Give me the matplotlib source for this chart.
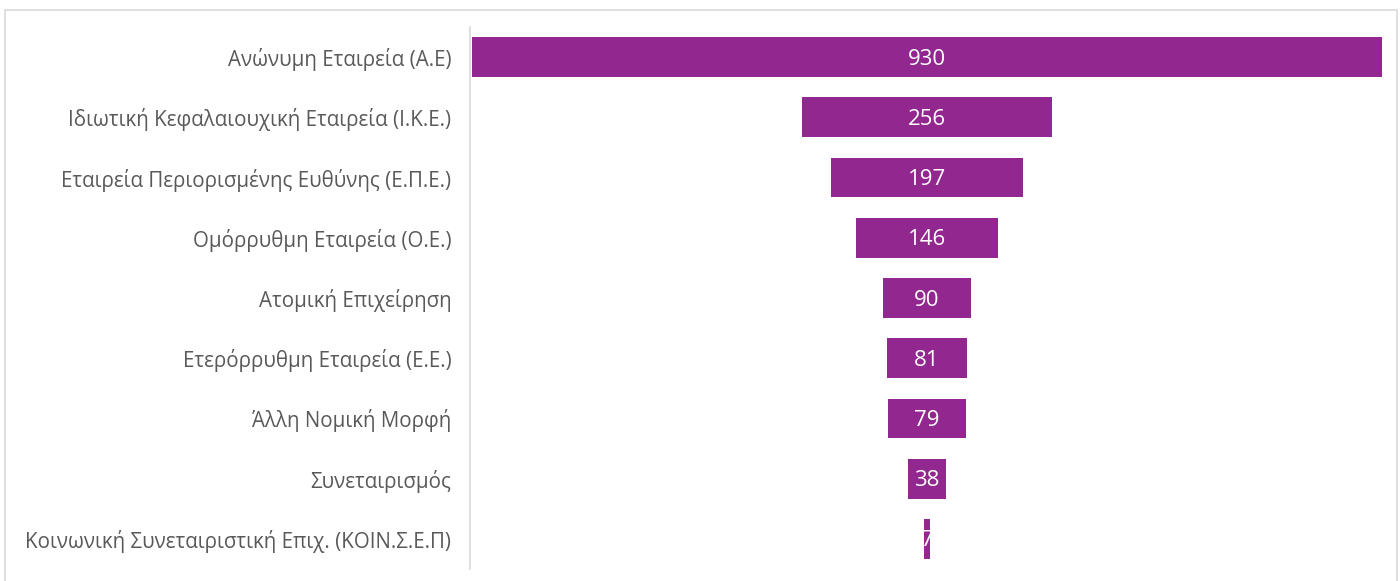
import matplotlib
matplotlib.use("Agg")
import matplotlib.pyplot as plt
from matplotlib.patches import Rectangle
from matplotlib.transforms import offset_copy

categories = [
    "Ανώνυμη Εταιρεία (Α.Ε)",
    "Ιδιωτική Κεφαλαιουχική Εταιρεία (Ι.Κ.Ε.)",
    "Εταιρεία Περιορισμένης Ευθύνης (Ε.Π.Ε.)",
    "Ομόρρυθμη Εταιρεία (Ο.Ε.)",
    "Ατομική Επιχείρηση",
    "Ετερόρρυθμη Εταιρεία (Ε.Ε.)",
    "Άλλη Νομική Μορφή",
    "Συνεταιρισμός",
    "Κοινωνική Συνεταιριστική Επιχ. (ΚΟΙΝ.Σ.Ε.Π)",
]
values = [930, 256, 197, 146, 90, 81, 79, 38, 7]

plt.rcParams['font.family'] = ['Open Sans', 'Noto Sans', 'DejaVu Sans']

W, H = 1400, 581
fig = plt.figure(figsize=(W/100, H/100), dpi=100)
fig.patch.set_facecolor('white')

# outer border
fig.patches.append(Rectangle((5/W, -0.05), (1397-5)/W, 1.05 - 10/H,
                             transform=fig.transFigure, fill=False,
                             edgecolor='#d9d9d9', linewidth=1.2))

left, right = 470, 1384
top, bottom = 27, 569
ax = fig.add_axes([left/W, 1 - bottom/H, (right-left)/W, (bottom-top)/H])

n = len(categories)
ypos = list(range(n))
lefts = [-v/2 for v in values]
color = '#92278F'
ax.barh(ypos, values, left=lefts, height=0.66, color=color)
trans = offset_copy(ax.transData, fig=fig, x=0, y=-2, units='dots')
for y, v in zip(ypos, values):
    ax.text(0, y, str(v), ha='center', va='center', color='white',
            fontsize=16, transform=trans)

half = max(values)/2
ax.set_xlim(-half*1.004, half*1.004)
ax.set_ylim(n - 0.5, -0.5)
ax.set_yticks(ypos)
ax.set_yticklabels(categories, fontsize=14.8, color='#595959')
ax.tick_params(axis='y', length=0, pad=13.5)
ax.set_xticks([])
for s in ['top', 'right', 'bottom']:
    ax.spines[s].set_visible(False)
ax.spines['left'].set_color('#d9d9d9')
ax.spines['left'].set_linewidth(1.2)
ax.set_facecolor('white')

fig.savefig('out.png', dpi=100, facecolor='white')
